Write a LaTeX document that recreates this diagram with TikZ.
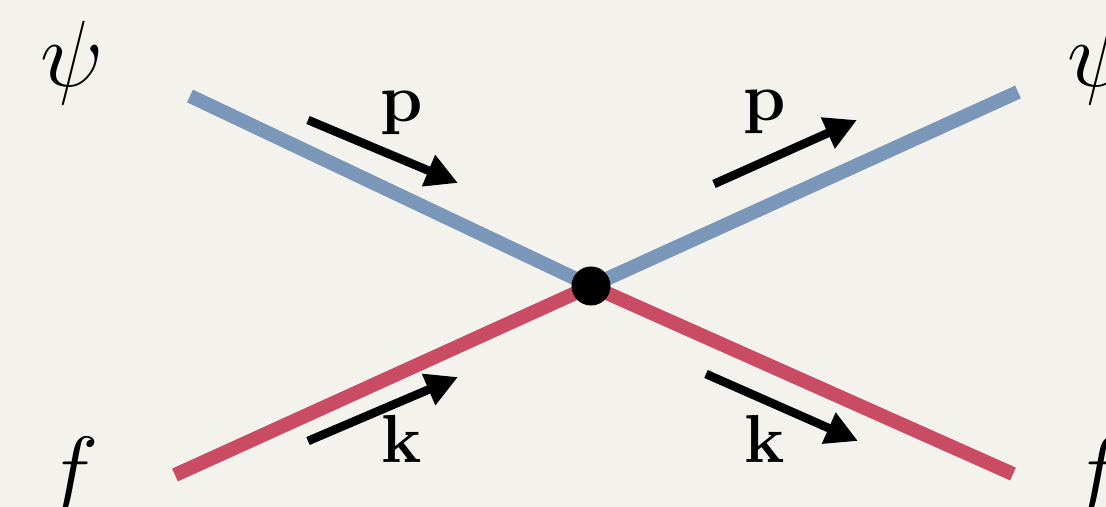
\documentclass[tikz,border=0pt]{standalone}
\usepackage{fix-cm}
\usetikzlibrary{arrows.meta}
\definecolor{PaperBg}{HTML}{F4F2ED}
\definecolor{PsiBlue}{HTML}{7A97BA}
\definecolor{FRed}{HTML}{C94B64}

\begin{document}
\begin{tikzpicture}[x=0.5pt,y=-0.5pt,
    leg/.style={line width=7pt},
    mom/.style={line width=4.3pt, -{Triangle[length=16pt,width=16pt]}},
    fieldlabel/.style={anchor=base, font=\fontsize{47}{56}\selectfont},
    momlabel/.style={anchor=base, font=\fontsize{34}{40}\selectfont\bfseries}]
    \fill[PaperBg] (0,0) rectangle (1106,507);
    \useasboundingbox (0,0) rectangle (1106,507);
    % legs of the vertex
    \coordinate (vtx) at (591,286);
    \coordinate (psiIn) at (190,96);
    \coordinate (psiOut) at (1018,92);
    \coordinate (fIn) at (175,475);
    \coordinate (fOut) at (1013,474);
    \draw[leg, PsiBlue] (psiIn) -- (vtx) -- (psiOut);
    \draw[leg, FRed] (fIn) -- (vtx) -- (fOut);
    \node[circle, fill=black, inner sep=0pt, minimum size=19.5pt] (v) at (vtx) {};
    % momentum arrows
    \coordinate (pInTail) at (308,120);
    \coordinate (pInTip) at (458,183);
    \coordinate (pOutTail) at (714,184);
    \coordinate (pOutTip) at (857,120);
    \coordinate (kInTail) at (308,441);
    \coordinate (kInTip) at (458,377);
    \coordinate (kOutTail) at (706,374);
    \coordinate (kOutTip) at (858,441);
    \draw[mom] (pInTail) -- (pInTip);
    \draw[mom] (pOutTail) -- (pOutTip);
    \draw[mom] (kInTail) -- (kInTip);
    \draw[mom] (kOutTail) -- (kOutTip);
    % labels
    \node[momlabel] (pIn) at (402,122) {$\mathbf{p}$};
    \node[momlabel] (pOut) at (765,121) {$\mathbf{p}$};
    \node[momlabel] (kIn) at (402,462) {$\mathbf{k}$};
    \node[momlabel] (kOut) at (765,462) {$\mathbf{k}$};
    \node[fieldlabel] (psiL) at (72,87) {$\psi$};
    \node[fieldlabel] (psiR) at (1099,87) {$\psi$};
    \node[fieldlabel] (fL) at (71,502) {$f$};
    \node[fieldlabel] (fR) at (1097,502) {$f$};
  \end{tikzpicture}
\end{document}
